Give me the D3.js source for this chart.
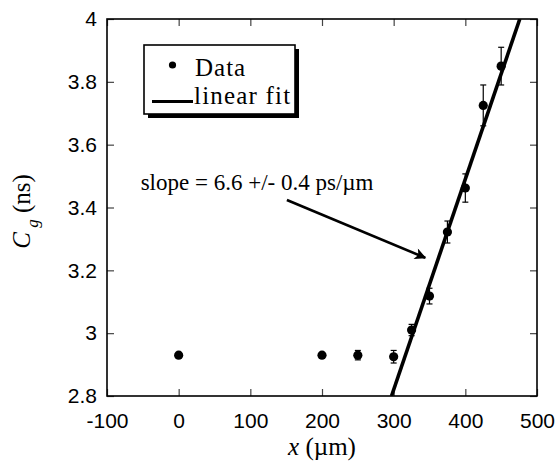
<!DOCTYPE html>
<html>
<head>
<meta charset="utf-8">
<script src="https://cdn.jsdelivr.net/npm/d3@7"></script>
<style>
  body { margin: 0; background: #fff; }
  .tick text { font-family: "Liberation Sans", Arial, sans-serif; font-size: 21px; fill: #000; }
</style>
</head>
<body>
<div id="main"></div>
<script>
const xVals = [0, 200, 250, 300, 325, 350, 375, 400, 425, 450];
const yVals = [2.93, 2.93, 2.93, 2.925, 3.01, 3.118, 3.322, 3.462, 3.725, 3.85];
const yErr  = [0, 0, 0.015, 0.02, 0.018, 0.025, 0.035, 0.045, 0.065, 0.06];

// linear fit end points
const fitX = [297, 476];
const fitY = [2.8, 4.0];

// annotation arrow (data units): from, to
const arrowX = [151, 344];
const arrowY = [3.424, 3.24];

const xTicks = [-100, 0, 100, 200, 300, 400, 500];
const yTicks = [2.8, 3, 3.2, 3.4, 3.6, 3.8, 4];

const serif = "'Liberation Serif', 'DejaVu Serif', serif";
const w = 558;
const h = 466;
const margin = { top: 19, right: 21, bottom: 70, left: 107 };

const svg = d3.select("#main").append("svg")
  .attr("width", w)
  .attr("height", h);

const xScale = d3.scaleLinear()
  .domain([-100, 500])
  .range([margin.left, w - margin.right]);

const yScale = d3.scaleLinear()
  .domain([2.8, 4])
  .range([h - margin.bottom, margin.top]);

const x0 = margin.left, x1 = w - margin.right;
const y0 = h - margin.bottom, y1 = margin.top;

svg.append("defs").append("clipPath")
  .attr("id", "clip")
  .append("rect")
  .attr("x", x0).attr("y", y1)
  .attr("width", x1 - x0).attr("height", y0 - y1);

svg.append("defs").append("marker")
  .attr("id", "head")
  .attr("viewBox", "0 0 10 10")
  .attr("refX", 9).attr("refY", 5)
  .attr("markerWidth", 6).attr("markerHeight", 4.4)
  .attr("markerUnits", "strokeWidth")
  .attr("orient", "auto")
  .append("path")
  .attr("d", "M0,0 L10,5 L0,10 L2.5,5 Z")
  .attr("fill", "#000");

// axes, ticks pointing inward
const fmt = d => String(d);

svg.append("g")
  .attr("transform", "translate(0," + y0 + ")")
  .call(d3.axisBottom(xScale).tickValues(xTicks).tickFormat(fmt)
    .tickSizeInner(-7).tickSizeOuter(0).tickPadding(17));

svg.append("g")
  .attr("transform", "translate(0," + y1 + ")")
  .call(d3.axisTop(xScale).tickValues(xTicks).tickFormat("")
    .tickSizeInner(-7).tickSizeOuter(0));

svg.append("g")
  .attr("transform", "translate(" + x0 + ",0)")
  .call(d3.axisLeft(yScale).tickValues(yTicks).tickFormat(fmt)
    .tickSizeInner(-7).tickSizeOuter(0).tickPadding(10));

svg.append("g")
  .attr("transform", "translate(" + x1 + ",0)")
  .call(d3.axisRight(yScale).tickValues(yTicks).tickFormat("")
    .tickSizeInner(-7).tickSizeOuter(0));

svg.selectAll(".domain").remove();
svg.selectAll(".tick line").attr("stroke", "#444").attr("stroke-width", 1.2);

svg.append("rect")
  .attr("x", x0).attr("y", y1)
  .attr("width", x1 - x0).attr("height", y0 - y1)
  .attr("fill", "none")
  .attr("stroke", "#000")
  .attr("stroke-width", 1.6);

// fit line
svg.append("line")
  .attr("clip-path", "url(#clip)")
  .attr("x1", xScale(fitX[0])).attr("y1", yScale(fitY[0]))
  .attr("x2", xScale(fitX[1])).attr("y2", yScale(fitY[1]))
  .attr("stroke", "#000")
  .attr("stroke-width", 3.6);

// error bars
const pts = xVals.map((x, i) => ({ x: x, y: yVals[i], e: yErr[i] }));
const bars = svg.append("g").selectAll("g")
  .data(pts.filter(d => d.e > 0))
  .enter().append("g")
  .attr("stroke", "#000")
  .attr("stroke-width", 1.2);

bars.append("line")
  .attr("x1", d => xScale(d.x)).attr("x2", d => xScale(d.x))
  .attr("y1", d => yScale(d.y - d.e)).attr("y2", d => yScale(d.y + d.e));
bars.append("line")
  .attr("x1", d => xScale(d.x) - 3).attr("x2", d => xScale(d.x) + 3)
  .attr("y1", d => yScale(d.y + d.e)).attr("y2", d => yScale(d.y + d.e));
bars.append("line")
  .attr("x1", d => xScale(d.x) - 3).attr("x2", d => xScale(d.x) + 3)
  .attr("y1", d => yScale(d.y - d.e)).attr("y2", d => yScale(d.y - d.e));

svg.append("g").selectAll("circle")
  .data(pts)
  .enter().append("circle")
  .attr("cx", d => xScale(d.x))
  .attr("cy", d => yScale(d.y))
  .attr("r", 4.6)
  .attr("fill", "#000");

// annotation
svg.append("text")
  .attr("font-family", serif)
  .attr("x", xScale(-53))
  .attr("y", yScale(3.456))
  .attr("font-size", 23)
  .text("slope = 6.6 +/- 0.4 ps/\u00b5m");

svg.append("line")
  .attr("x1", xScale(arrowX[0])).attr("y1", yScale(arrowY[0]))
  .attr("x2", xScale(arrowX[1])).attr("y2", yScale(arrowY[1]))
  .attr("stroke", "#000")
  .attr("stroke-width", 2.6)
  .attr("marker-end", "url(#head)");

// legend
const lg = svg.append("g").attr("transform", "translate(144,45)");
lg.append("rect")
  .attr("x", 4).attr("y", 4)
  .attr("width", 151).attr("height", 69)
  .attr("fill", "#000");
lg.append("rect")
  .attr("width", 151).attr("height", 69)
  .attr("fill", "#fff")
  .attr("stroke", "#000")
  .attr("stroke-width", 1.6);
lg.append("circle")
  .attr("cx", 28.5).attr("cy", 20)
  .attr("r", 3.6)
  .attr("fill", "#000");
lg.append("text")
  .attr("font-family", serif)
  .attr("x", 51).attr("y", 31)
  .attr("font-size", 25)
  .attr("letter-spacing", 1)
  .text("Data");
lg.append("line")
  .attr("x1", 8).attr("x2", 49)
  .attr("y1", 56.5).attr("y2", 56.5)
  .attr("stroke", "#000")
  .attr("stroke-width", 3);
lg.append("text")
  .attr("font-family", serif)
  .attr("x", 50).attr("y", 59)
  .attr("font-size", 25)
  .attr("letter-spacing", 1.2)
  .text("linear fit");

// axis titles
const xt = svg.append("text")
  .attr("font-family", serif)
  .attr("x", (x0 + x1) / 2)
  .attr("y", 455)
  .attr("text-anchor", "middle")
  .attr("font-size", 25);
xt.append("tspan").attr("font-style", "italic").text("x");
xt.append("tspan").text(" (\u00b5m)");

const yt = svg.append("text")
  .attr("font-family", serif)
  .attr("transform", "translate(30," + ((y0 + y1) / 2 + 4) + ") rotate(-90)")
  .attr("text-anchor", "middle")
  .attr("font-size", 25);
yt.append("tspan").attr("font-style", "italic").text("C");
yt.append("tspan").attr("font-style", "italic").attr("font-size", 17).attr("dy", 8).text(" g");
yt.append("tspan").attr("dy", -8).text("  (ns)");
</script>
</body>
</html>
